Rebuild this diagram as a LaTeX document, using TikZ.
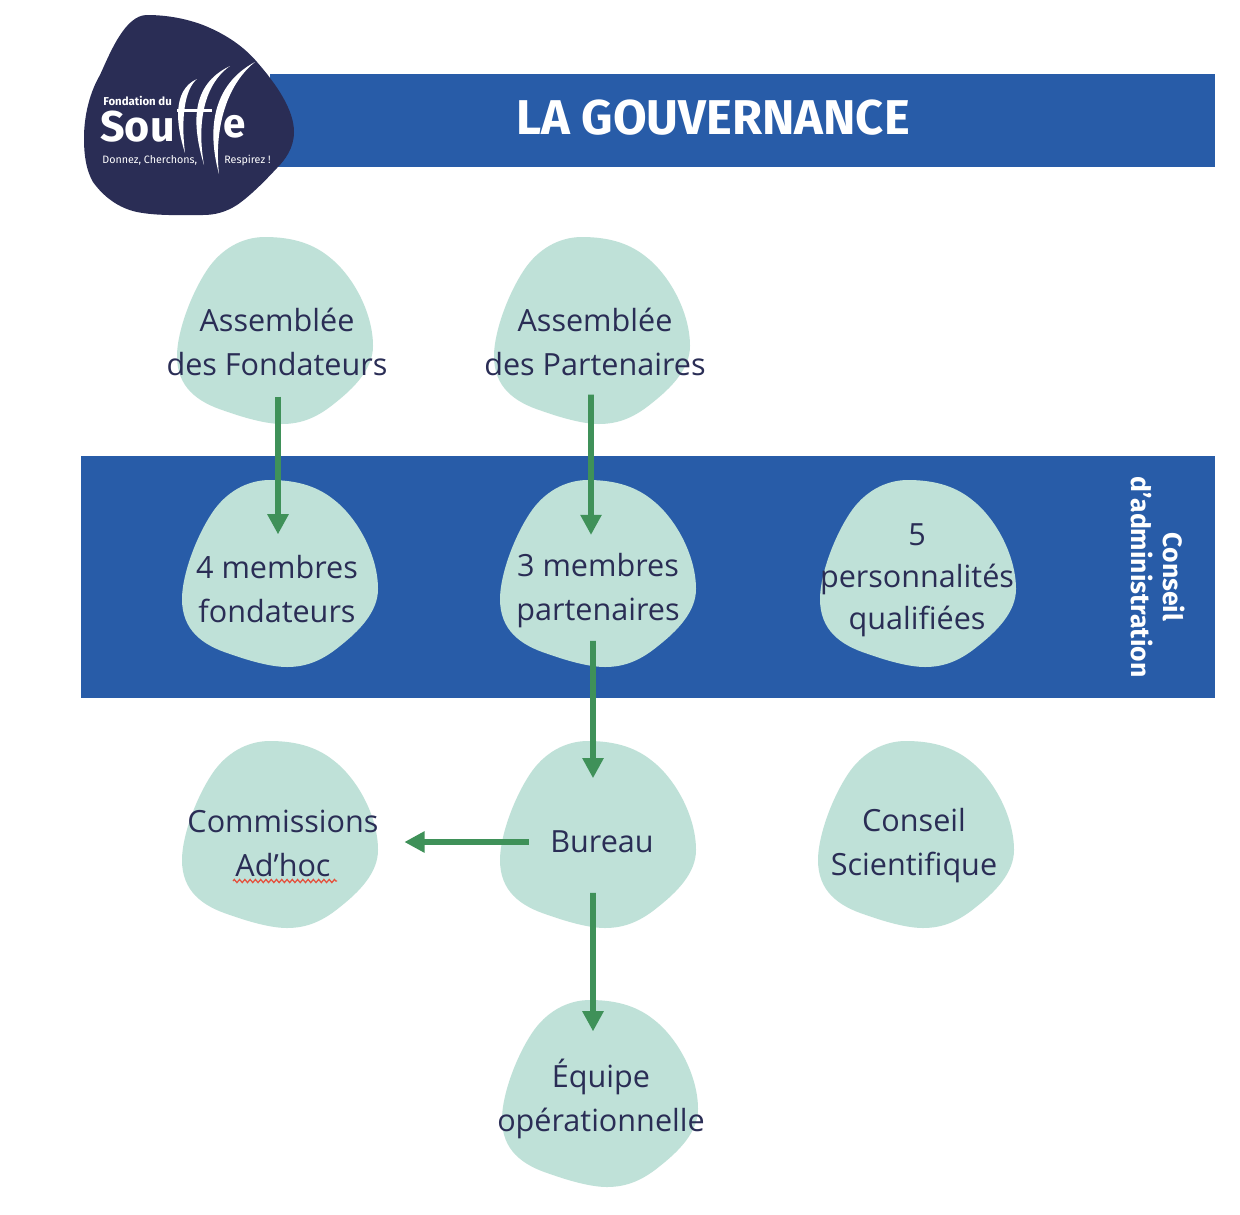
\documentclass[tikz,border=0pt]{standalone}
\usepackage{fontspec}
\setmainfont{Open Sans}
\newfontfamily\firafont{Fira Sans}
\usetikzlibrary{arrows.meta,decorations.pathmorphing}
\definecolor{bandblue}{HTML}{285CA8}
\definecolor{blobgreen}{HTML}{BFE1D8}
\definecolor{inknavy}{HTML}{2A2D55}
\definecolor{flowgreen}{HTML}{3F9159}
\definecolor{spellred}{HTML}{E5503C}
\tikzset{
  blobfill/.style={fill=blobgreen},
  blobtext/.style={text=inknavy,align=center,inner sep=6pt,font=\fontsize{17.4}{25}\selectfont},
  flow/.style={draw=flowgreen,line width=3.4pt,-{Triangle[length=11.5pt,width=11.5pt]}},
  logotext/.style={text=white,inner sep=0pt},
}
\newcommand{\blobpath}{(88,0) .. controls (118,0) and (137,8) .. (151,19) .. controls (175,37) and (196,75) .. (196,109) .. controls (196,132) and (177,151) .. (158,166) .. controls (141,180) and (125,187) .. (105,187) .. controls (88,187) and (65,180) .. (48,174) .. controls (20,165) and (0,150) .. (0,119) .. controls (0,95) and (14,57) .. (30,33) .. controls (44,12) and (65,0) .. (88,0) -- cycle}
\begin{document}
\begin{tikzpicture}[x=0.02cm,y=-0.02cm]
    \useasboundingbox (0,0) rectangle (1240,1214);
    \fill[white] (0,0) rectangle (1240,1214);
    \fill[bandblue] (270,74) rectangle (1215,167);
    \fill[bandblue] (81,456) rectangle (1215,698);

    \foreach \bx/\by in {177/237,494/237,182/480,500/480,820/480,182/741,500/741,818/741,502/1000}
        \fill[blobfill,shift={(\bx,\by)}] \blobpath;

    \fill[inknavy] (147,15) .. controls (168,15) and (187,19) .. (203,25) .. controls (228,35) and (245,48) .. (257,62) .. controls (277,85) and (294,110) .. (294,132) .. controls (294,148) and (285,160) .. (277,168) .. controls (264,182) and (250,196) .. (237,205) .. controls (226,212) and (215,215) .. (203,215) .. controls (180,215) and (157,216) .. (137,212) .. controls (118,208) and (103,196) .. (93,182) .. controls (86,170) and (84,155) .. (84,138) .. controls (84,115) and (90,92) .. (100,75) .. controls (110,53) and (125,15) .. (147,15) -- cycle;
    \node[logotext,anchor=west,font=\firafont\bfseries\fontsize{6.5}{8}\selectfont] (fondation) at (103,101) {Fondation du};
    \node[logotext,anchor=west,font=\firafont\bfseries\fontsize{24.5}{28}\selectfont] (sou) at (100,127) {Sou};
    \node[logotext,anchor=west,font=\firafont\bfseries\fontsize{23}{28}\selectfont] (lettere) at (223,127) {e};
    \node[logotext,anchor=west,font=\firafont\fontsize{6.1}{8}\selectfont] (donnez) at (102,160) {Donnez, Cherchons,};
    \node[logotext,anchor=west,font=\firafont\fontsize{6.1}{8}\selectfont] (respirez) at (224,160) {Respirez !};
    \fill[white] (185,153) .. controls (176,125) and (172,90) .. (197,79) .. controls (184,90) and (181,120) .. (185,153);
    \fill[white] (204,165) .. controls (192,125) and (190,85) .. (230,66) .. controls (203,85) and (197,125) .. (204,165);
    \fill[white] (219,174) .. controls (207,130) and (212,85) .. (255,62) .. controls (226,85) and (214,130) .. (219,174);
    \fill[white] (177,109) rectangle (212,112);

    \node[text=white,font=\firafont\bfseries\fontsize{27.8}{32}\selectfont] (title) at (713,118) {LA GOUVERNANCE};
    \node[text=white,rotate=-90,align=center,font=\firafont\bfseries\fontsize{15.1}{18}\selectfont] (conseilca) at (1158,577) {Conseil\\d’administration};

    \node[blobtext] (assF) at (277,342) {Assemblée\\des Fondateurs};
    \node[blobtext] (assP) at (595,342) {Assemblée\\des Partenaires};
    \node[blobtext] (memF) at (277,589) {4 membres\\fondateurs};
    \node[blobtext] (memP) at (598,591) {3 membres\\partenaires};
    \node[blobtext,font=\fontsize{17.4}{24}\selectfont] (pers) at (917,580) {5\\personnalités\\qualifiées};
    \node[blobtext] (comm) at (283,843) {Commissions\\Ad’hoc};
    \node[blobtext] (bureau) at (602,842) {Bureau};
    \node[blobtext] (conseil) at (914,846) {Conseil\\Scientifique};
    \node[blobtext] (equipe) at (601,1099) {Équipe\\opérationnelle};

    \draw[spellred,line width=0.7pt,decorate,decoration={zigzag,amplitude=0.9pt,segment length=3pt}] (233,881) -- (337,881);

    \draw[flow,shorten <=5.7pt,shorten >=5.7pt] ([xshift=0.02cm]assF.south) -- ([xshift=0.02cm]memF.north);
    \draw[flow,shorten <=4.5pt,shorten >=4.5pt] ([xshift=-0.08cm]assP.south) -- ([xshift=-0.14cm]memP.north);
    \draw[flow,shorten <=1pt,shorten >=23.8pt] ([xshift=-0.1cm]memP.south) -- ([xshift=-0.18cm]bureau.north);
    \draw[flow,shorten <=6pt,shorten >=8.5pt] (bureau.west) -- (bureau.west -| comm.east);
    \draw[flow,shorten <=16.4pt,shorten >=9.6pt] ([xshift=-0.18cm]bureau.south) -- ([xshift=-0.16cm]equipe.north);
\end{tikzpicture}
\end{document}
